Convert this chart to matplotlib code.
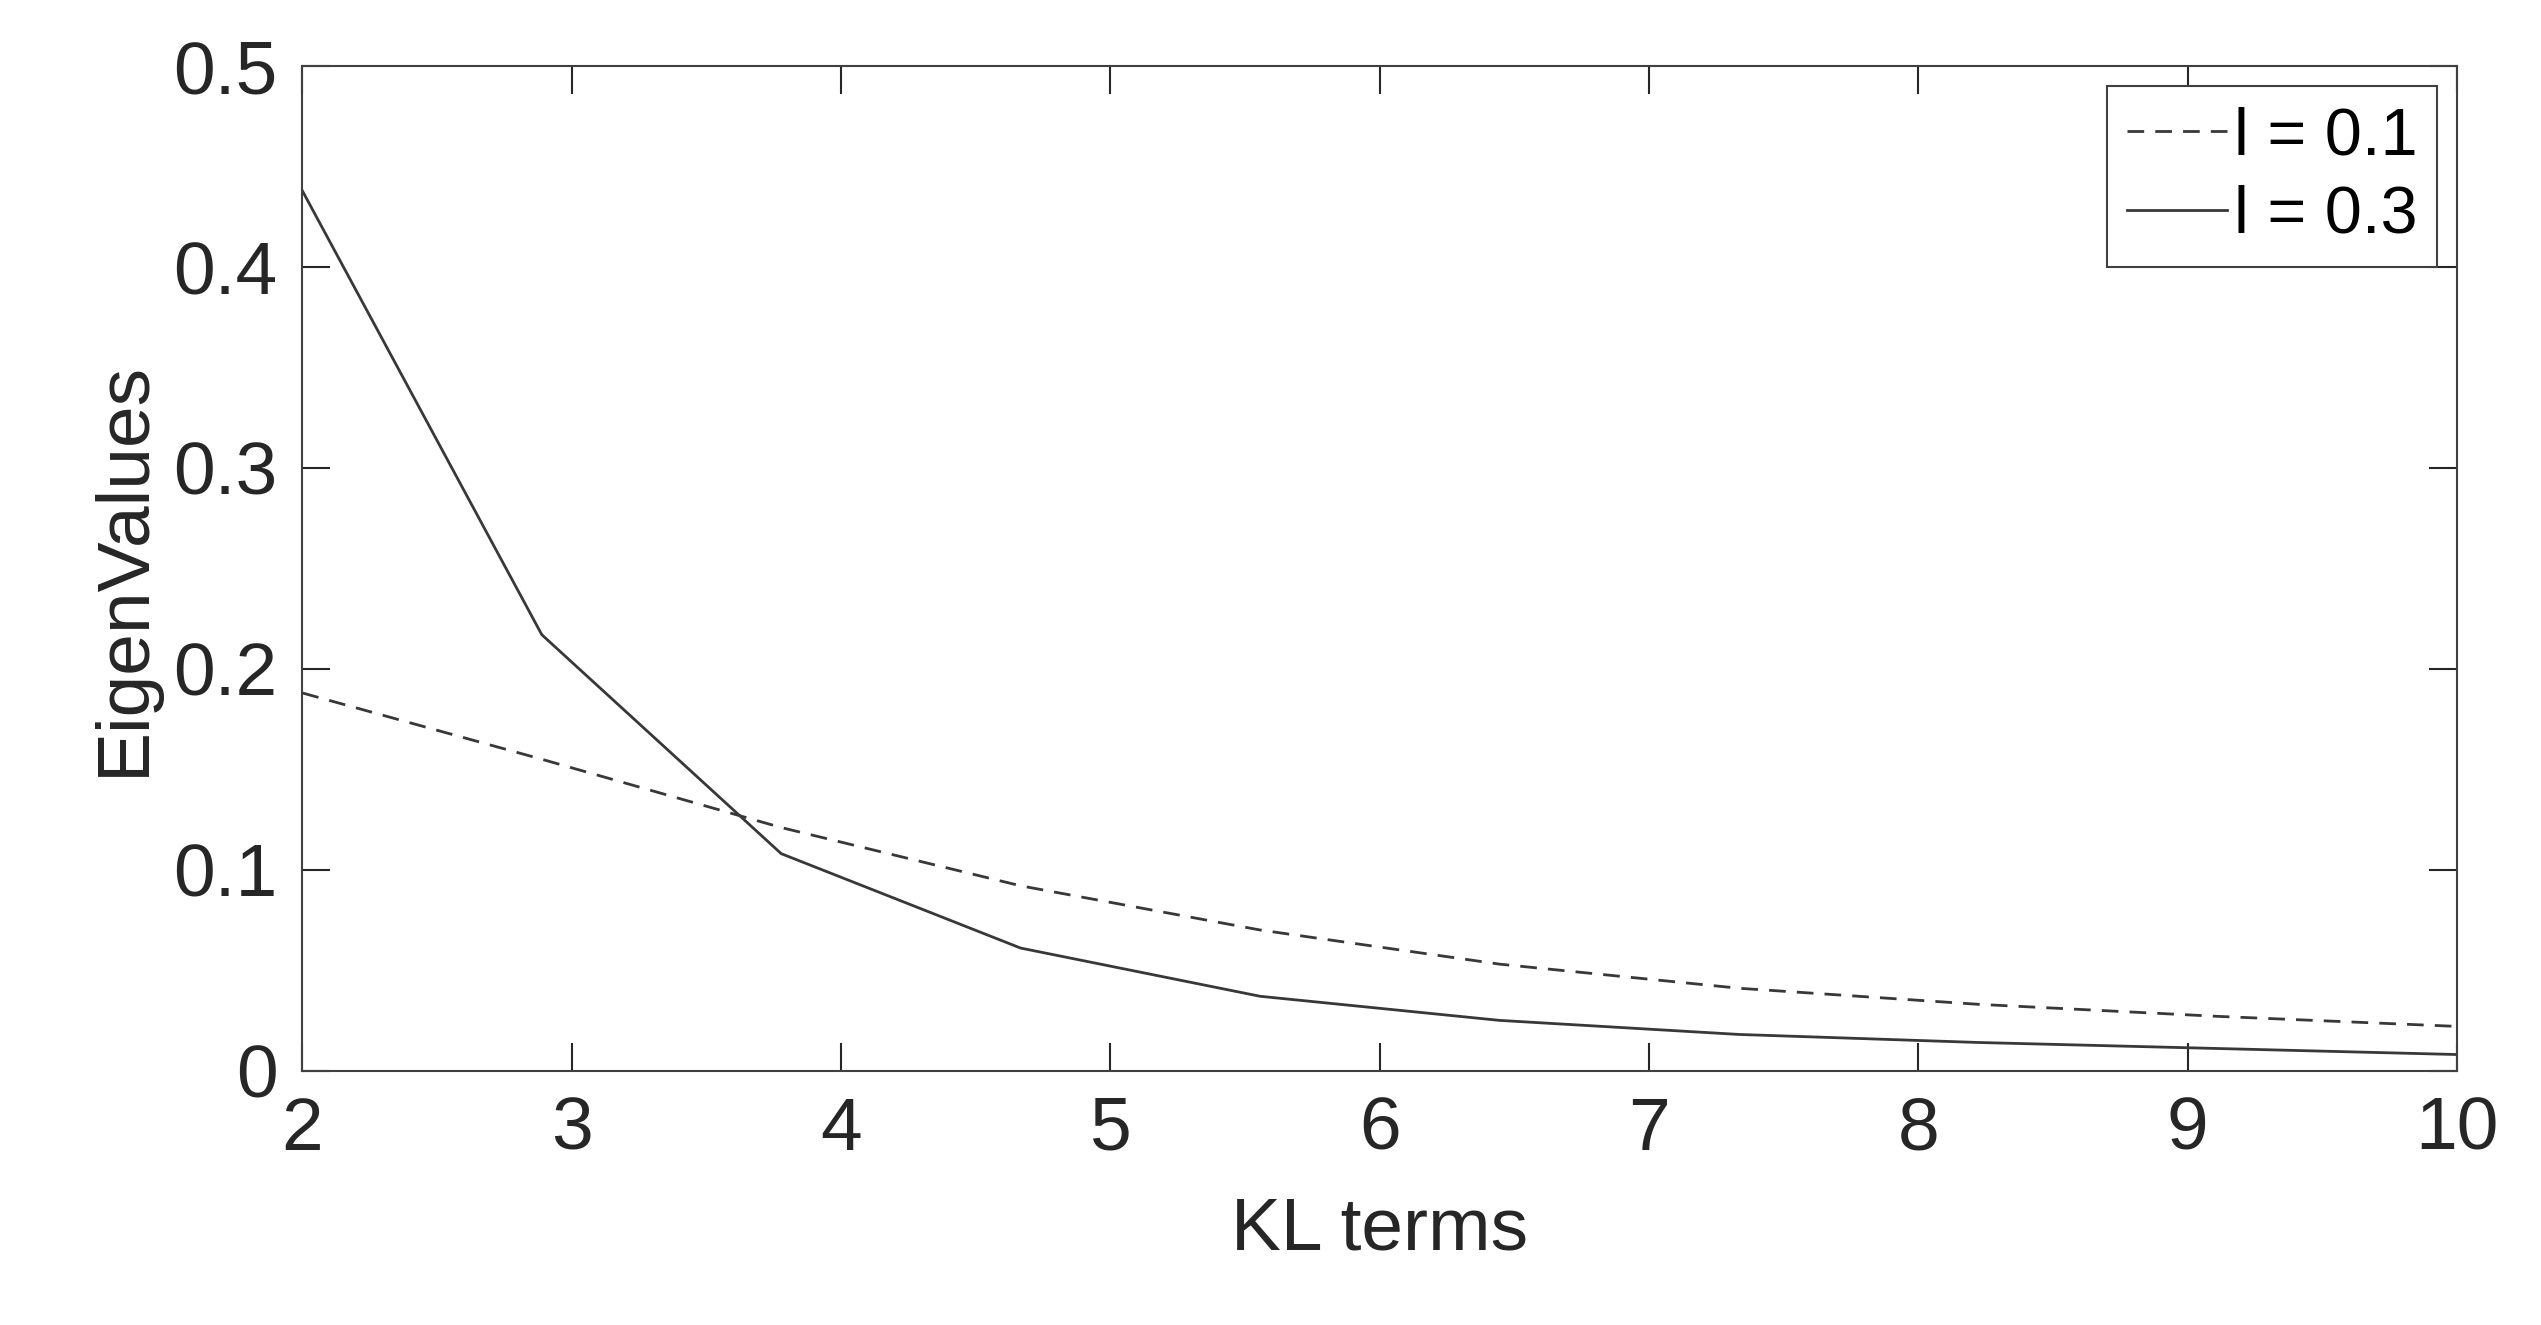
import numpy as np
import matplotlib.pyplot as plt

plt.rcParams['font.family'] = ['Liberation Sans', 'DejaVu Sans']

kl_terms = np.linspace(2, 10, 10)
eig_l01 = [0.188, 0.155, 0.121, 0.092, 0.070, 0.053, 0.041, 0.033, 0.027, 0.022]
eig_l03 = [0.438, 0.217, 0.108, 0.061, 0.037, 0.025, 0.018, 0.014, 0.011, 0.008]

fig = plt.figure(figsize=(25.41, 13.25), dpi=100)
ax = fig.add_axes([0.119, 0.192, 0.858 - 0.01, 0.758])
col = '#383838'
ax.plot(kl_terms, eig_l01, '--', color=col, lw=2, dashes=(6, 4), label='l = 0.1')
ax.plot(kl_terms, eig_l03, '-', color=col, lw=2, label='l = 0.3')
ax.set_xlim(2, 10)
ax.set_ylim(0, 0.5)
ax.set_xticks(range(2, 11))
ax.set_yticks([0, 0.1, 0.2, 0.3, 0.4, 0.5])
ax.set_yticklabels(['0', '0.1', '0.2', '0.3', '0.4', '0.5'])
ax.tick_params(direction='in', top=True, right=True, length=20, width=1.5,
               labelsize=54, colors='#262626', pad=18)
for s in ax.spines.values():
    s.set_color('#404040')
    s.set_linewidth(1.5)
ax.set_xlabel('KL terms', fontsize=54, color='#262626', labelpad=22)
ax.set_ylabel('EigenValues', fontsize=54, color='#262626', labelpad=10)
leg = ax.legend(loc='upper right', fontsize=48, fancybox=False, framealpha=1,
                edgecolor='#404040', handlelength=1.5, handletextpad=0.1,
                borderaxespad=0.3, labelspacing=0.25, borderpad=0.3)
leg.get_frame().set_linewidth(1.5)
fig.savefig('out.png', dpi=100)
